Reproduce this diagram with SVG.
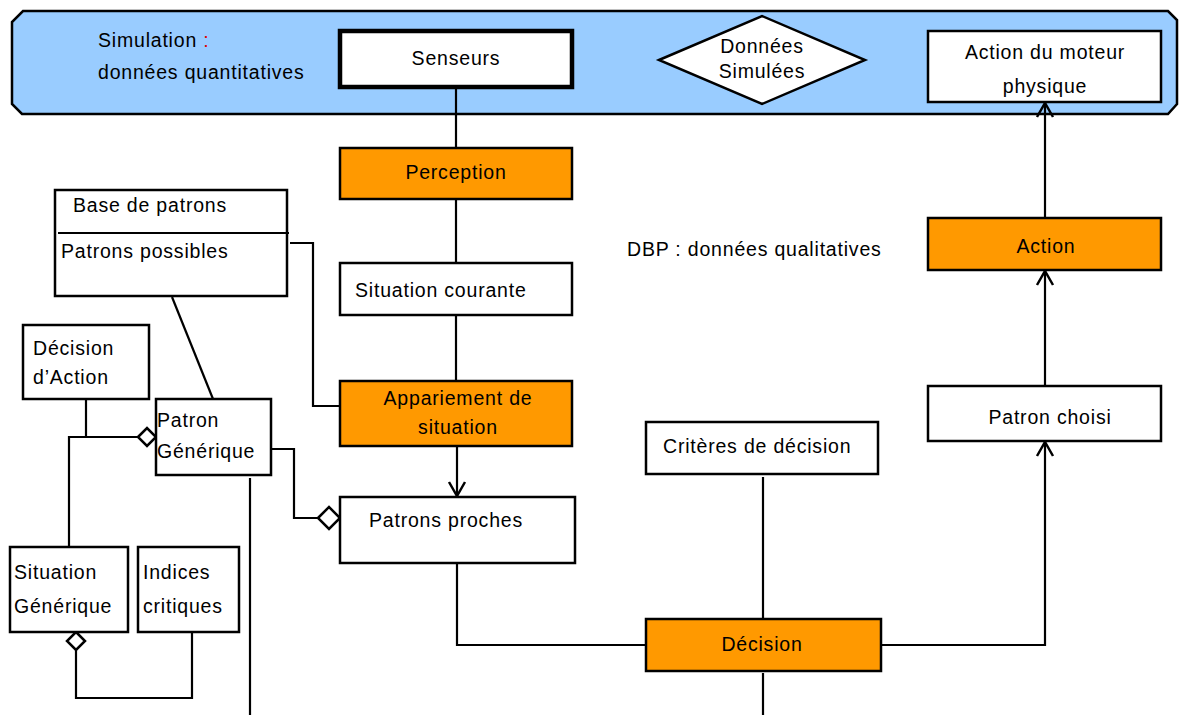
<svg xmlns="http://www.w3.org/2000/svg" width="1182" height="715" viewBox="0 0 1182 715">
<defs>
<style>
text{font-family:"Liberation Sans",Arial,sans-serif;font-size:19.5px;letter-spacing:0.8px;fill:#000}
.m{text-anchor:middle}
.box{fill:#fff;stroke:#000;stroke-width:2.5}
.or{fill:#FF9900;stroke:#000;stroke-width:2.5}
.ln{fill:none;stroke:#000;stroke-width:2.2}
.dia{fill:#fff;stroke:#000;stroke-width:2.5}
</style>
<marker id="arr" viewBox="0 0 20 20" refX="18" refY="10" markerWidth="20" markerHeight="20" markerUnits="userSpaceOnUse" orient="auto">
<path d="M4,2 L18,10 L4,18" fill="none" stroke="#000" stroke-width="2.5"/>
</marker>
</defs>
<rect width="1182" height="715" fill="#fff"/>
<g id="banner">
<polygon points="23,11 1168,11 1177,20 1177,104 1168,114 22,114 12,104 12,22" fill="#99CCFF" stroke="#000" stroke-width="2.5"/>
<text x="98" y="47">Simulation <tspan fill="#e00000">:</tspan></text>
<text x="98" y="79">données quantitatives</text>
</g>
<g id="senseurs">
<rect x="340" y="31" width="232" height="56" fill="#fff" stroke="#000" stroke-width="4.5"/>
<text class="m" x="456" y="65">Senseurs</text>
</g>
<g id="donnees">
<polygon points="659,60 762,16 865,60 762,104" class="dia"/>
<text class="m" x="762" y="53">Données</text>
<text class="m" x="762" y="78">Simulées</text>
</g>
<g id="moteur">
<rect x="928" y="31" width="233" height="71" class="box"/>
<text class="m" x="1045" y="59">Action du moteur</text>
<text class="m" x="1045" y="93">physique</text>
</g>
<g id="connectors">
<line x1="456" y1="89" x2="456" y2="148" class="ln"/>
<line x1="456" y1="199" x2="456" y2="263" class="ln"/>
<line x1="456" y1="315" x2="456" y2="381" class="ln"/>
<line x1="457" y1="446" x2="457" y2="496" class="ln" marker-end="url(#arr)"/>
<polyline points="457,563 457,645 646,645" class="ln"/>
<line x1="763" y1="477" x2="763" y2="619" class="ln"/>
<line x1="763" y1="673" x2="763" y2="715" class="ln"/>
<polyline points="881,645 1045,645 1045,442" class="ln" marker-end="url(#arr)"/>
<line x1="1045" y1="386" x2="1045" y2="271" class="ln" marker-end="url(#arr)"/>
<line x1="1045" y1="218" x2="1045" y2="103" class="ln" marker-end="url(#arr)"/>
<polyline points="290,243 313,243 313,406 340,406" class="ln"/>
<line x1="172" y1="297" x2="213" y2="399" class="ln"/>
<line x1="86" y1="399" x2="86" y2="437" class="ln"/>
<polyline points="69,547 69,437 138,437" class="ln"/>
<polygon points="138,437 147,428 156,437 147,446" class="dia"/>
<polyline points="271,449 294,449 294,518 318,518" class="ln"/>
<polygon points="318,518 329,507 340,518 329,529" class="dia"/>
<line x1="250" y1="478" x2="250" y2="715" class="ln"/>
<polyline points="76,650 76,698 192,698 192,632" class="ln"/>
<polygon points="76,632 85,641 76,650 67,641" class="dia"/>
</g>
<g id="perception">
<rect x="340" y="148" width="232" height="51" class="or"/>
<text class="m" x="456" y="179">Perception</text>
</g>
<g id="situation-courante">
<rect x="340" y="263" width="232" height="52" class="box"/>
<text x="355" y="297">Situation courante</text>
</g>
<g id="appariement">
<rect x="340" y="381" width="232" height="65" class="or"/>
<text class="m" x="458" y="405">Appariement de</text>
<text class="m" x="458" y="434">situation</text>
</g>
<g id="patrons-proches">
<rect x="340" y="497" width="235" height="66" class="box"/>
<text x="369" y="527">Patrons proches</text>
</g>
<g id="base-patrons">
<rect x="55" y="190" width="232" height="106" class="box"/>
<line x1="58" y1="233" x2="289" y2="233" class="ln"/>
<text x="73" y="212">Base de patrons</text>
<text x="61" y="258">Patrons possibles</text>
</g>
<g id="decision-action">
<rect x="23" y="325" width="126" height="74" class="box"/>
<text x="33" y="355">Décision</text>
<text x="33" y="384">d’Action</text>
</g>
<g id="patron-generique">
<rect x="156" y="399" width="115" height="76" class="box"/>
<text x="157" y="427">Patron</text>
<text x="157" y="458">Générique</text>
</g>
<g id="situation-generique">
<rect x="10" y="547" width="118" height="85" class="box"/>
<text x="14" y="579">Situation</text>
<text x="14" y="613">Générique</text>
</g>
<g id="indices">
<rect x="138" y="547" width="101" height="85" class="box"/>
<text x="143" y="579">Indices</text>
<text x="143" y="613">critiques</text>
</g>
<g id="criteres">
<rect x="646" y="422" width="232" height="52" class="box"/>
<text x="663" y="453">Critères de décision</text>
</g>
<g id="decision">
<rect x="646" y="619" width="235" height="52" class="or"/>
<text class="m" x="762" y="651">Décision</text>
</g>
<g id="patron-choisi">
<rect x="928" y="386" width="233" height="55" class="box"/>
<text class="m" x="1050" y="424">Patron choisi</text>
</g>
<g id="action">
<rect x="928" y="218" width="233" height="52" class="or"/>
<text class="m" x="1046" y="253">Action</text>
</g>
<text x="627" y="256">DBP : données qualitatives</text>
</svg>
